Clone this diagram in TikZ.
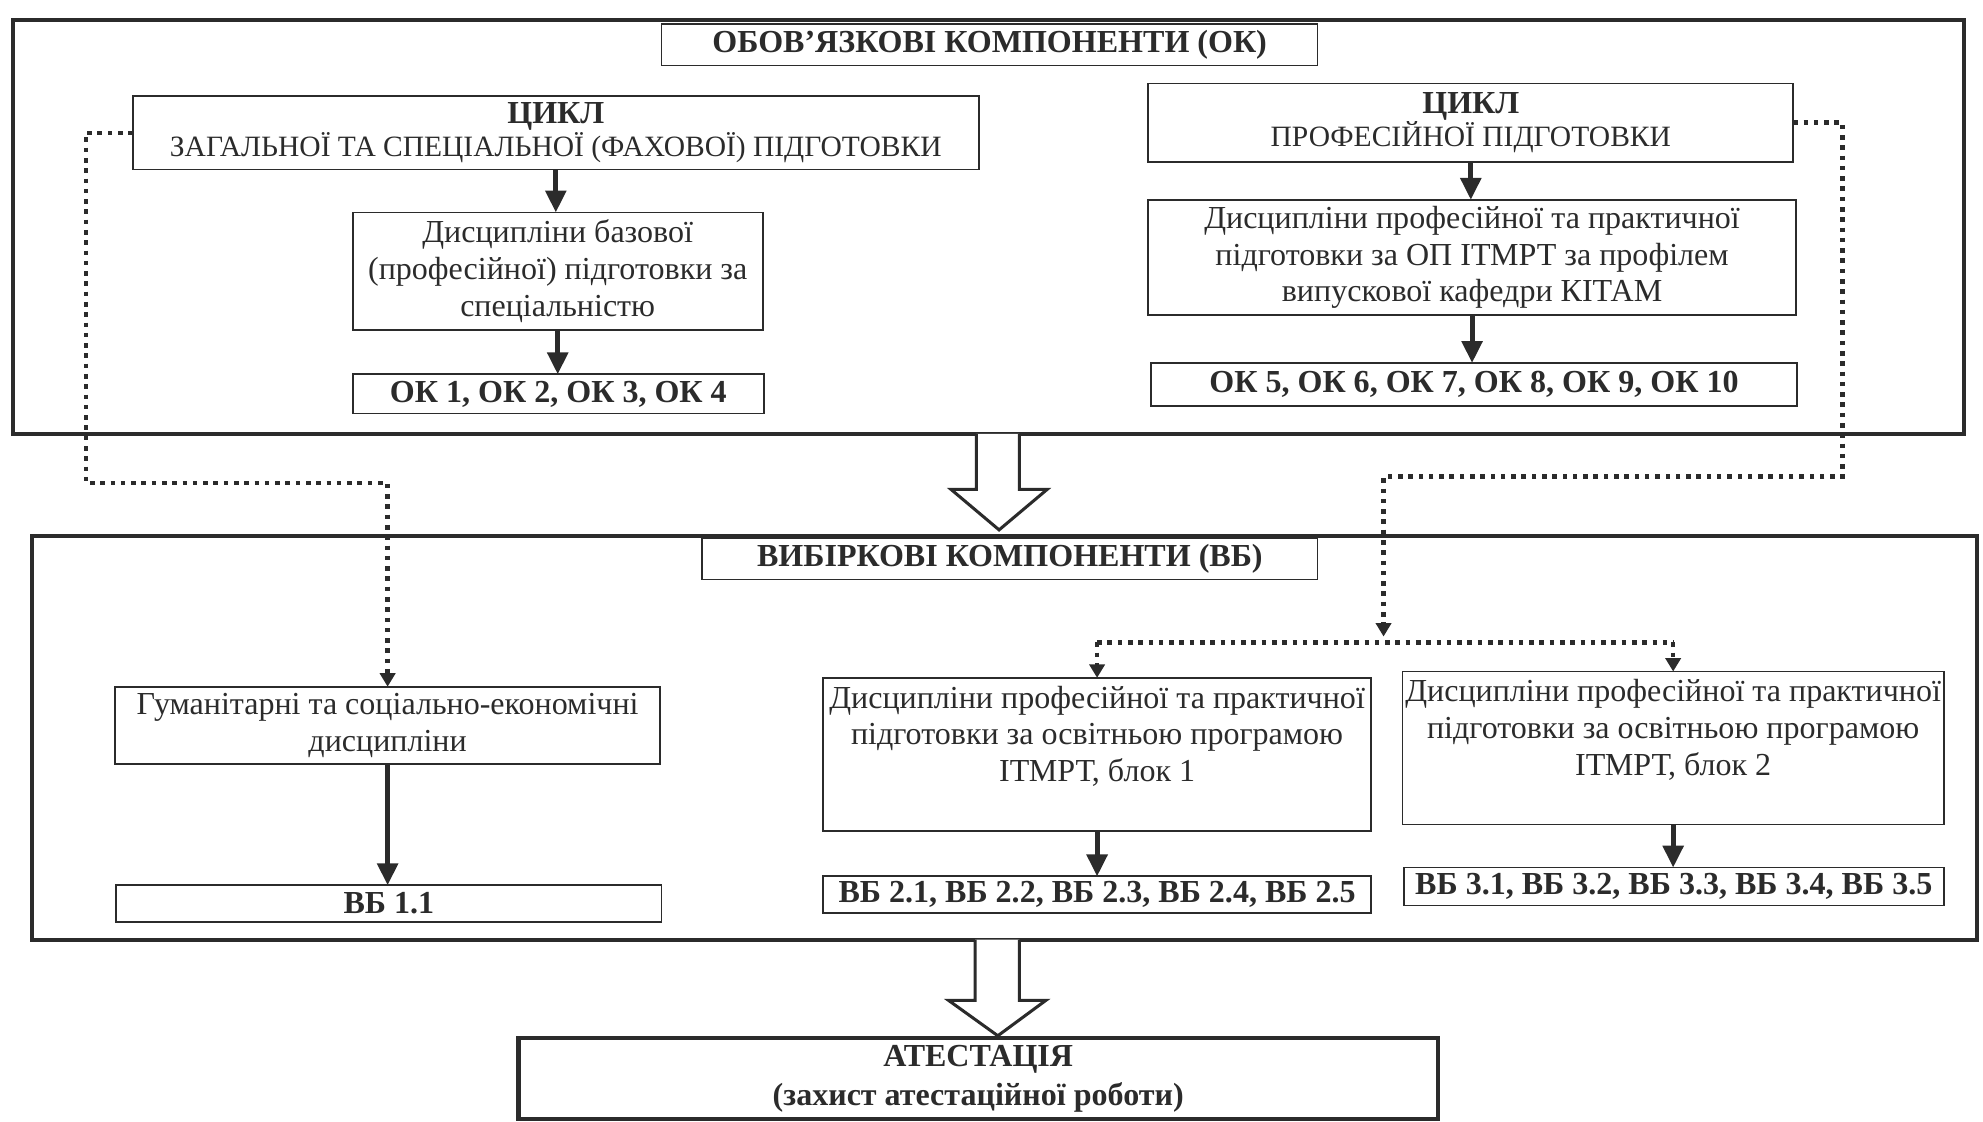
\documentclass[tikz,border=0pt]{standalone}
\usepackage{fontspec}
\setmainfont{Liberation Serif}
\usetikzlibrary{arrows.meta}
\definecolor{ink}{gray}{0.17}
\newcommand\mkbox[7]{\node[#1, minimum width={(#4-#2)*0.75pt}, minimum height={(#5-#3)*0.75pt}] (#6) at ({(#2+#4)/2},{(#3+#5)/2}) {#7};}
\newcommand\capsline[1]{{\fontsize{17.5}{21}\selectfont #1}}
\begin{document}
\begin{tikzpicture}[x=0.75pt,y=-0.75pt,
  every node/.style={inner sep=0pt, outer sep=0pt, text=ink, align=center, font=\fontsize{19}{21.75}\selectfont},
  outer/.style={draw=ink, line width=2.4pt},
  box/.style={draw=ink, line width=1.1pt},
  titlebox/.style={draw=ink, line width=0.8pt, font=\fontsize{19}{21.75}\selectfont\bfseries},
  codes/.style={draw=ink, line width=1.1pt, font=\fontsize{19}{21.75}\selectfont\bfseries},
  arr/.style={draw=ink, line width=3pt, -{Triangle[length=13pt,width=12pt]}},
  dots/.style={draw=ink, line width=2.7pt, dash pattern=on 2.7pt off 3.4pt},
  dotarr/.style={dots, -{Triangle[length=8pt,width=9pt]}},
  hollow/.style={draw=ink, line width=1.8pt, line join=miter, fill=white}
]
\useasboundingbox (0,0) rectangle (1568,887);
% outer containers
\mkbox{outer}{10}{16}{1553}{343}{okbox}{}
\mkbox{outer}{25}{424}{1563}{743}{vbbox}{}
% titles
\mkbox{titlebox, fill=white}{523}{19}{1042}{52}{oktitle}{ОБОВ’ЯЗКОВІ КОМПОНЕНТИ (ОК)}
\mkbox{titlebox, fill=white}{555}{426}{1042}{458}{vbtitle}{ВИБІРКОВІ КОМПОНЕНТИ (ВБ)}
% top-left column
\mkbox{box}{105}{76}{774}{134}{lc}{\textbf{ЦИКЛ}\\[-2pt]\capsline{ЗАГАЛЬНОЇ ТА СПЕЦІАЛЬНОЇ (ФАХОВОЇ) ПІДГОТОВКИ}}
\mkbox{box}{279}{168}{603}{261}{ld}{Дисципліни базової\\(професійної) підготовки за\\спеціальністю}
\mkbox{codes}{279}{296}{604}{327}{lk}{ОК 1, ОК 2, ОК 3, ОК 4}
% top-right column
\mkbox{box}{908}{66}{1418}{128}{rc}{\textbf{ЦИКЛ}\\[-2pt]\capsline{ПРОФЕСІЙНОЇ ПІДГОТОВКИ}}
\mkbox{box}{908}{158}{1420}{249}{rd}{Дисципліни професійної та практичної\\підготовки за ОП ІТМРТ за профілем\\випускової кафедри КІТАМ}
\mkbox{codes}{910}{287}{1421}{321}{rk}{ОК 5, ОК 6, ОК 7, ОК 8, ОК 9, ОК 10}
% lower part
\mkbox{box}{91}{543}{522}{604}{hum}{Гуманітарні та соціально-економічні\\дисципліни}
\mkbox{box}{651}{536}{1084}{657}{b1}{}
\node (b1t) at (867.5,582) {Дисципліни професійної та практичної\\підготовки за освітньою програмою\\ІТМРТ, блок 1};
\mkbox{box}{1109}{531}{1537}{652}{b2}{}
\node (b2t) at (1323,577) {Дисципліни професійної та практичної\\підготовки за освітньою програмою\\ІТМРТ, блок 2};
\mkbox{codes}{92}{700}{523}{729}{v1}{ВБ 1.1}
\mkbox{codes}{651}{693}{1084}{722}{v2}{ВБ 2.1, ВБ 2.2, ВБ 2.3, ВБ 2.4, ВБ 2.5}
\mkbox{codes}{1110}{686}{1537}{716}{v3}{ВБ 3.1, ВБ 3.2, ВБ 3.3, ВБ 3.4, ВБ 3.5}
% attestation
\mkbox{outer}{410}{821}{1137}{885}{att}{\textbf{АТЕСТАЦІЯ}\\[1pt]\textbf{(захист атестаційної роботи)}}
% solid arrows
\draw[arr] (lc.south) -- (lc.south |- ld.north);
\draw[arr] (ld.south) -- (ld.south |- lk.north);
\draw[arr] (rc.south) -- (rc.south |- rd.north);
\draw[arr] (rd.south) -- (rd.south |- rk.north);
\draw[arr] (hum.south) -- (hum.south |- v1.north);
\draw[arr] (b1.south) -- (b1.south |- v2.north);
\draw[arr] (b2.south) -- (b2.south |- v3.north);
% dotted connectors
\coordinate (dl) at (68,382);
\draw[dotarr] (lc.west) -| (dl) -| (hum.north);
\coordinate (dr1) at (1457,377);
\coordinate (dr2) at (1094,377);
\coordinate (jn) at (1094,508);
\coordinate (jl) at (867.5,508);
\coordinate (jr) at (1323,508);
\draw[dotarr] (rc.east) -| (dr1) -- (dr2) -- ([yshift=3.5pt]jn);
\draw[dots] (jl) -- (jr);
\draw[dotarr] (jl) -- (b1.north);
\draw[dotarr] (jr) -- (b2.north);
% hollow block arrows
\draw[hollow] (772,343) -- (772,387) -- (752,387) -- (790,419) -- (828,387) -- (806,387) -- (806,343);
\draw[hollow] (771,743) -- (771,791) -- (750,791) -- (789,819) -- (827,791) -- (806,791) -- (806,743);
\end{tikzpicture}
\end{document}
